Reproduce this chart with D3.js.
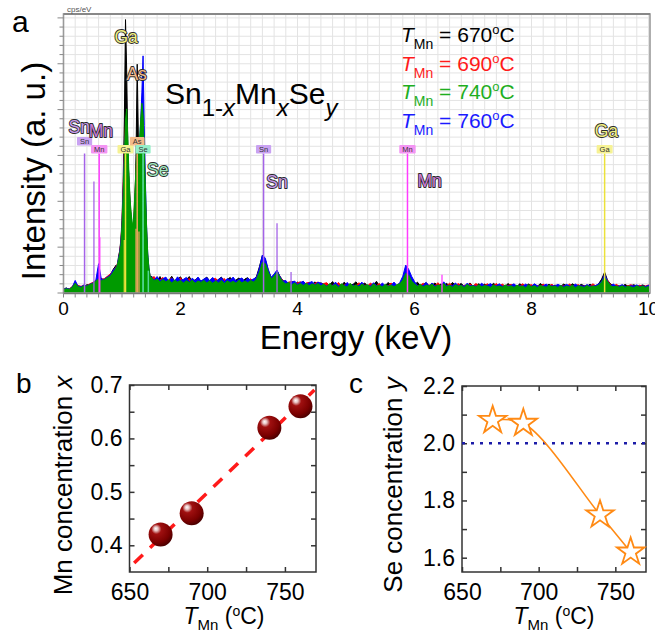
<!DOCTYPE html>
<html><head><meta charset="utf-8">
<script src="https://cdn.jsdelivr.net/npm/d3@7"></script>
<style>
body{margin:0;background:#fff;}
svg{display:block;font-family:Arial,"Liberation Sans",sans-serif;}
</style></head><body>
<svg id="chart" width="655" height="638"></svg>
<script>
// ===================== DATA =====================
// EDS channel grid (keV): 0-0.85 step 0.05, 0.90-1.48 step 0.02, 1.50-10 step 0.05
const energy = d3.range(0, 18).map(i => +(i * 0.05).toFixed(3))
  .concat(d3.range(0, 30).map(i => +(0.90 + i * 0.02).toFixed(3)))
  .concat(d3.range(0, 171).map(i => +(1.50 + i * 0.05).toFixed(3)));

// intensity (a.u.)
const spec670 = [
  1.5,1.8,1.2,2.4,3.0,2.6,2.3,2.2,3.0,2.8,3.6,4.0,4.6,5.2,4.6,5.8,6.5,8.5,
  10,9,13,15,19,26,40,62,98,80,52,38,30,25,22,24,30,50,82,55,48,56,60,54,44,30,19,11,7.5,5.5,
  6.0,5.2,4.4,5.9,4.1,5.0,4.5,6.0,4.2,4.9,5.8,4.1,4.8,5.9,4.0,4.7,5.5,4.2,4.9,5.7,
  4.2,5.3,4.0,4.9,5.7,3.9,4.8,5.6,4.0,4.7,5.4,3.9,5.0,5.5,4.1,4.6,6.0,9.5,13.5,12.0,
  8.0,5.5,6.5,8.0,6.0,4.5,4.1,3.0,4.3,3.0,3.9,3.1,4.2,2.9,3.8,3.0,4.0,2.8,3.7,3.0,
  2.6,3.0,4.1,2.4,3.2,2.7,3.9,2.5,2.8,3.1,4.0,2.6,2.9,3.6,2.4,2.8,3.0,4.2,2.5,2.9,
  2.6,3.8,2.7,3.1,2.5,3.5,5.0,8.0,7.0,5.0,2.9,3.9,2.6,3.0,3.7,2.5,2.8,3.6,2.4,3.2,
  2.7,3.5,2.4,3.8,2.6,2.9,3.4,2.3,2.7,3.6,2.4,2.8,3.3,2.5,3.2,2.6,2.4,3.5,2.6,2.8,
  2.6,2.4,3.4,2.5,2.9,2.3,3.3,2.6,2.4,3.2,2.5,2.9,2.3,3.4,2.6,2.5,3.1,2.4,2.8,2.6,
  2.4,3.2,2.6,2.3,3.3,2.5,2.4,3.1,2.6,2.3,3.2,2.4,2.6,3.4,5.0,7.5,4.6,3.3,2.5,2.7,
  2.5,2.3,3.1,2.4,2.6,3.0,2.3,2.5,2.9,2.4,2.3
];
const spec690 = [
  1.4,1.6,1.5,2.2,4.0,2.5,2.4,2.8,2.6,3.3,3.8,4.5,5.4,4.8,5.2,6.0,6.8,8.0,
  9.5,10.5,12,15,18,25,38,52,60,58,48,40,32,26,23,26,34,44,50,46,52,58,60,56,46,34,22,13,8.5,6,
  5.2,5.9,4.3,4.7,5.6,3.9,4.6,5.4,4.0,4.4,5.5,3.8,4.5,5.2,3.9,4.4,5.3,3.7,4.6,5.1,
  3.9,4.9,5.3,3.8,4.5,5.2,3.7,4.6,5.3,3.8,4.4,5.2,3.9,4.5,5.1,4.0,5.4,8.5,12.0,11.5,
  8.0,5.4,6.4,7.8,5.8,4.6,3.3,3.9,4.1,3.1,3.7,4.0,3.0,3.6,3.8,2.9,3.5,3.9,2.8,3.4,
  3.7,2.5,2.8,2.6,3.8,2.4,2.9,3.5,2.5,2.7,2.6,3.7,2.4,2.8,2.6,3.6,2.5,2.7,3.4,2.4,
  2.7,2.6,3.6,2.5,2.8,3.4,4.8,7.4,6.9,4.7,3.7,2.6,2.8,3.5,2.5,2.9,2.7,2.6,3.7,2.5,
  2.9,2.6,3.5,2.5,2.7,3.4,2.4,2.8,2.6,3.3,2.5,3.4,2.6,2.4,2.8,3.3,2.5,2.6,3.4,2.4,
  3.2,2.5,2.7,3.1,2.4,2.6,2.5,3.3,2.4,2.7,3.0,2.4,2.6,2.5,3.2,2.4,2.6,3.1,2.3,2.6,
  2.5,2.6,2.4,3.2,2.5,2.7,3.0,2.4,2.5,2.8,2.4,3.3,2.5,3.0,4.0,6.0,4.6,3.0,2.4,3.1,
  2.4,2.8,2.3,2.6,3.0,2.4,2.3,2.8,2.4,2.5,2.9
];
const spec740 = [
  1.2,1.5,1.3,2.0,3.5,2.2,2.0,2.6,2.4,3.0,3.4,4.2,5.0,4.4,4.8,5.5,6.0,7.5,
  9,10,12,14,17,24,35,48,62,66,55,42,33,28,24,27,36,45,52,48,55,62,68,64,52,38,24,14,9,6,
  5.6,4.4,5.0,3.9,4.8,4.0,4.7,3.6,4.6,3.9,4.5,3.6,4.4,3.8,4.6,3.5,4.3,3.8,4.5,3.6,
  4.4,3.5,4.3,3.6,4.5,3.4,4.4,3.7,4.2,3.5,4.6,3.6,4.3,3.7,4.5,3.9,5.0,7.5,11.0,10.5,
  7.5,5.0,6.0,7.5,5.5,4.0,3.2,3.8,2.9,3.6,2.8,3.4,2.7,3.5,2.6,3.3,2.8,3.4,2.5,3.2,
  2.2,3.4,2.5,3.1,2.0,3.3,2.6,2.1,3.5,2.4,2.9,2.2,3.2,2.5,3.0,2.1,3.3,2.4,2.8,2.2,
  3.1,2.3,2.9,2.2,3.0,3.3,4.6,7.0,6.4,4.3,3.2,2.4,3.1,2.2,2.8,2.5,3.2,2.1,2.9,2.6,
  3.4,2.2,2.8,2.1,3.0,2.4,2.7,2.0,3.1,2.3,2.6,2.1,3.0,2.2,2.7,2.4,2.0,2.9,2.3,2.5,
  2.1,2.9,2.2,2.6,2.0,2.8,2.3,2.5,1.9,2.9,2.2,2.6,2.0,2.7,2.3,2.1,2.8,2.2,2.5,2.0,
  2.7,2.0,2.5,2.2,2.8,1.9,2.6,2.3,2.0,2.7,2.1,2.5,2.3,2.9,3.9,5.6,4.1,2.6,2.2,2.5,
  2.1,2.6,2.0,2.5,2.2,1.9,2.6,2.1,2.4,2.0,2.3
];
const spec760 = [
  1.3,1.7,1.4,2.1,4.5,2.3,2.2,2.9,2.5,3.1,3.6,4.3,10.5,4.6,5.0,5.7,6.4,8.2,
  9.2,10.2,12.5,14.5,18,24,36,50,58,62,50,40,31,26,22,25,33,42,50,47,54,62,72,85,60,40,24,14,9,6,
  5.8,4.6,5.9,4.4,5.1,5.7,4.1,5.4,4.3,5.8,4.5,4.9,5.6,4.0,5.3,4.4,5.7,4.2,5.0,5.5,
  4.5,5.6,4.1,4.8,5.5,4.0,5.2,4.6,5.7,4.2,4.9,5.4,4.1,5.3,4.5,5.1,5.6,9.0,13.6,12.5,
  8.5,5.6,6.8,8.2,5.9,4.2,4.5,3.2,3.9,4.3,3.1,3.8,4.2,3.0,3.7,4.1,2.9,3.9,3.5,3.0,
  2.5,2.9,2.6,3.9,2.5,2.8,2.6,3.8,2.4,2.9,2.5,2.7,3.9,2.4,2.7,2.5,3.7,2.6,2.4,3.6,
  2.6,2.5,2.8,3.9,2.6,3.8,6.0,10.0,8.5,6.0,4.1,2.7,2.5,2.8,3.8,2.4,3.6,2.5,2.7,2.6,
  4.0,2.5,2.7,2.6,3.6,2.5,2.8,2.4,3.5,2.6,2.7,2.4,2.6,3.5,2.5,2.8,3.4,2.4,2.6,3.3,
  2.4,2.6,2.5,2.7,3.3,2.4,2.6,2.4,3.2,2.5,2.4,3.3,2.6,2.4,2.5,3.2,2.4,2.6,2.5,3.1,
  2.6,2.4,3.1,2.5,2.4,3.2,2.5,2.6,2.4,3.0,2.5,2.4,2.7,3.3,4.2,6.6,4.3,2.6,3.2,2.4,
  2.5,3.0,2.4,2.3,2.6,2.5,2.9,2.3,2.5,2.3,2.8
];
const legendTemps = ["670", "690", "740", "760"];

// element marker lines (keV)
const lineElem   = ["Sn", "Mn", "Ga", "As", "Se", "Sn", "Mn", "Ga"];
const lineEnergy = [0.36, 0.61, 1.06, 1.26, 1.36, 3.42, 5.88, 9.25];
const lineRow    = [0, 1, 1, 0, 1, 1, 1, 1];
const minorElem   = ["Sn", "Mn", "Ga", "As", "As", "Se", "Sn", "Sn", "Mn"];
const minorEnergy = [0.52, 0.62, 1.04, 1.24, 1.29, 1.45, 3.65, 3.89, 6.47];
const minorHeight = [40, 20, 19, 23, 22, 8, 25, 7.5, 6.5];
// element name labels (energy, intensity)
const tagElem   = ["Sn", "Mn", "Ga", "As", "Se", "Sn", "Mn", "Ga"];
const tagEnergy = [0.27, 0.64, 1.07, 1.25, 1.61, 3.65, 6.26, 9.28];
const tagValue  = [57.5, 56, 89.5, 76.3, 42, 37.6, 38, 56];

// panel b
const tempMn = [670, 690, 740, 760];
const mnConc = [0.42, 0.46, 0.62, 0.66];
const fitSpan = [653, 769];
// panel c
const seConc = [2.08, 2.07, 1.75, 1.62];
const seRef = 2.0;
const tTicks = [650, 700, 750];
const tTickLabels = ["650", "700", "750"];
const tMinor = [675, 725];
const bYTicks = [0.4, 0.5, 0.6, 0.7];
const bYLabels = ["0.4", "0.5", "0.6", "0.7"];
const bYMinor = [0.45, 0.55, 0.65];
const cYTicks = [1.6, 1.8, 2.0, 2.2];
const cYLabels = ["1.6", "1.8", "2.0", "2.2"];
const cYMinor = [1.7, 1.9, 2.1];
const eTicks = [0, 2, 4, 6, 8, 10];
const eTickLabels = ["0", "2", "4", "6", "8", "10"];

// ===================== STYLE =====================
const elemColor = {Sn: "#a463e8", Mn: "#ff3cff", Ga: "#ece23a", As: "#f0a45e", Se: "#62dfae"};
const boxColor  = {Sn: "#c9a2f2", Mn: "#f394f3", Ga: "#f6f294", As: "#f5bb8a", Se: "#95efc8"};
const tagColor  = {Sn: "#c59be9", Mn: "#c97dd8", Ga: "#f1ef82", As: "#f2b98a", Se: "#9fe6bf"};
const specStyle = [
  {vals: spec670, color: "#000000"},
  {vals: spec690, color: "#ff0000"},
  {vals: spec760, color: "#0000ff"},
  {vals: spec740, color: "#009a00"}
];
const legendColors = ["#000000", "#ff1a1a", "#1eae1e", "#1a1aff"];

const svg = d3.select("#chart");

// ===================== PANEL A =====================
const A = {x0: 63.5, x1: 650, y0: 14, y1: 293};
const xA = d3.scaleLinear().domain([0, 10]).range([63.5, 648.5]);
const yA = d3.scaleLinear().domain([0, 100]).range([293, 14]);
const gA = svg.append("g");

// grid
const vGrid = d3.range(0, 51).map(i => i * 0.2);
const hGrid = d3.range(0, 31).map(i => i * 98.6 / 30);
gA.append("g").selectAll("line").data(vGrid).join("line")
  .attr("x1", d => xA(d)).attr("x2", d => xA(d))
  .attr("y1", A.y0).attr("y2", A.y1)
  .attr("stroke", "#e3e3e3").attr("stroke-width", 1);
gA.append("g").selectAll("line").data(hGrid).join("line")
  .attr("x1", A.x0).attr("x2", A.x1)
  .attr("y1", d => yA(d)).attr("y2", d => yA(d))
  .attr("stroke", "#e3e3e3").attr("stroke-width", 1);

// clip
svg.append("defs").append("clipPath").attr("id", "clipA")
  .append("rect").attr("x", A.x0).attr("y", A.y0).attr("width", A.x1 - A.x0).attr("height", A.y1 - A.y0);

// spectra
const area = d3.area().x(d => xA(d[0])).y0(yA(0)).y1(d => yA(d[1]));
const gSpec = gA.append("g").attr("clip-path", "url(#clipA)");
specStyle.forEach(s => {
  const n = Math.min(energy.length, s.vals.length);
  const pts = d3.range(n).map(i => [energy[i], s.vals[i]]);
  gSpec.append("path").datum(pts).attr("d", area)
    .attr("fill", s.color).attr("stroke", s.color).attr("stroke-width", 1)
    .attr("stroke-linejoin", "miter");
});

// minor marker lines
gA.append("g").selectAll("line").data(minorEnergy).join("line")
  .attr("x1", d => xA(d)).attr("x2", d => xA(d))
  .attr("y1", (d, i) => yA(minorHeight[i])).attr("y2", yA(0))
  .attr("stroke", (d, i) => elemColor[minorElem[i]]).attr("stroke-width", 1.5)
  .attr("opacity", 0.85);
// main marker lines
gA.append("g").selectAll("line").data(lineEnergy).join("line")
  .attr("x1", d => xA(d)).attr("x2", d => xA(d))
  .attr("y1", yA(50)).attr("y2", yA(0))
  .attr("stroke", (d, i) => elemColor[lineElem[i]]).attr("stroke-width", 1.5);
// boxes
const gBox = gA.append("g");
lineEnergy.forEach((e, i) => {
  const top = 137 + lineRow[i] * 8;
  const g = gBox.append("g");
  const t = g.append("text").attr("x", xA(e)).attr("y", top + 6.7)
    .attr("text-anchor", "middle").attr("font-size", 7.5).attr("fill", "#333")
    .text(lineElem[i]);
  const w = t.node().getComputedTextLength() + 6;
  g.insert("rect", "text").attr("x", xA(e) - w / 2).attr("y", top)
    .attr("width", w).attr("height", 8.5).attr("rx", 1)
    .attr("fill", boxColor[lineElem[i]]);
});

// element name labels
gA.append("g").selectAll("text").data(tagEnergy).join("text")
  .attr("x", d => xA(d)).attr("y", (d, i) => yA(tagValue[i]))
  .attr("text-anchor", "middle").attr("font-size", 17.5)
  .attr("fill", (d, i) => tagColor[tagElem[i]])
  .attr("stroke", "#2a2a2a").attr("stroke-width", 1.8)
  .attr("paint-order", "stroke").attr("stroke-linejoin", "round")
  .text((d, i) => tagElem[i]);

// frame
gA.append("rect").attr("x", A.x0).attr("y", A.y0)
  .attr("width", A.x1 - A.x0).attr("height", A.y1 - A.y0)
  .attr("fill", "none").attr("stroke", "#9a9a9a").attr("stroke-width", 1.6);
gA.append("line").attr("x1", A.x0).attr("x2", A.x1).attr("y1", A.y0).attr("y2", A.y0)
  .attr("stroke", "#888").attr("stroke-width", 2);
gA.append("line").attr("x1", A.x0).attr("x2", A.x1).attr("y1", 293.5).attr("y2", 293.5)
  .attr("stroke", "#777").attr("stroke-width", 1.5);
// bottom ticks
gA.append("g").selectAll("line").data(vGrid).join("line")
  .attr("x1", d => xA(d)).attr("x2", d => xA(d))
  .attr("y1", 294).attr("y2", 297.5).attr("stroke", "#888").attr("stroke-width", 1);
// left ticks
gA.append("g").selectAll("line").data(hGrid).join("line")
  .attr("x1", (d, i) => i % 5 === 0 ? 57.5 : 59.5).attr("x2", A.x0)
  .attr("y1", d => yA(d)).attr("y2", d => yA(d))
  .attr("stroke", "#888").attr("stroke-width", 1);
// x tick labels
gA.append("g").selectAll("text").data(eTicks).join("text")
  .attr("x", d => xA(d)).attr("y", 315).attr("text-anchor", "middle")
  .attr("font-size", 19).attr("fill", "#000")
  .text((d, i) => eTickLabels[i]);
// cps/eV
gA.append("text").attr("x", 67).attr("y", 11.5).attr("font-size", 8).attr("fill", "#555").text("cps/eV");
// titles
gA.append("text").attr("transform", "translate(45,171) rotate(-90)").attr("text-anchor", "middle")
  .attr("font-size", 33).text("Intensity (a. u.)");
gA.append("text").attr("x", 356).attr("y", 349).attr("text-anchor", "middle")
  .attr("font-size", 33).text("Energy (keV)");
svg.append("text").attr("x", 12).attr("y", 32).attr("font-size", 30).text("a");

// formula
const fm = gA.append("text").attr("x", 165).attr("y", 104).attr("font-size", 30);
fm.append("tspan").text("Sn");
fm.append("tspan").attr("dy", 12).attr("font-size", 24).text("1-");
fm.append("tspan").attr("font-size", 24).attr("font-style", "italic").text("x");
fm.append("tspan").attr("dy", -12).text("Mn");
fm.append("tspan").attr("dy", 12).attr("font-size", 24).attr("font-style", "italic").text("x");
fm.append("tspan").attr("dy", -12).text("Se");
fm.append("tspan").attr("dy", 12).attr("font-size", 24).attr("font-style", "italic").text("y");

// legend
legendTemps.forEach((t, i) => {
  const tx = gA.append("text").attr("x", 401).attr("y", 42 + i * 28.7)
    .attr("font-size", 21).attr("fill", legendColors[i]);
  tx.append("tspan").attr("font-style", "italic").text("T");
  tx.append("tspan").attr("dy", 7).attr("font-size", 14).text("Mn");
  tx.append("tspan").attr("dy", -7).text(" = " + t);
  tx.append("tspan").attr("dy", -8).attr("font-size", 13).text("o");
  tx.append("tspan").attr("dy", 8).text("C");
});

// ===================== PANELS B & C =====================
function framePanel(g, x, y, yTicks, yLabels, yMinor) {
  const [xl, xr] = x.range();
  const [yb, yt] = y.range();
  const tickStyle = sel => {
    sel.select(".domain").remove();
    sel.selectAll("line").attr("stroke", "#333").attr("stroke-width", 1.5);
    sel.selectAll("text").attr("font-size", 23).attr("fill", "#000")
      .attr("font-family", 'Arial,"Liberation Sans",sans-serif');
  };
  g.append("g").attr("transform", `translate(0,${yb})`)
    .call(d3.axisBottom(x).tickValues(tTicks).tickSizeInner(-5).tickSizeOuter(0).tickPadding(12)
      .tickFormat((d, i) => tTickLabels[i])).call(tickStyle);
  g.append("g").attr("transform", `translate(0,${yb})`)
    .call(d3.axisBottom(x).tickValues(tMinor).tickSizeInner(-5).tickSizeOuter(0).tickFormat("")).call(tickStyle);
  g.append("g").attr("transform", `translate(0,${yt})`)
    .call(d3.axisTop(x).tickValues(tTicks.concat(tMinor)).tickSizeInner(-5).tickSizeOuter(0).tickFormat("")).call(tickStyle);
  g.append("g").attr("transform", `translate(${xl},0)`)
    .call(d3.axisLeft(y).tickValues(yTicks).tickSizeInner(-5).tickSizeOuter(0).tickPadding(7)
      .tickFormat((d, i) => yLabels[i])).call(tickStyle);
  g.append("g").attr("transform", `translate(${xl},0)`)
    .call(d3.axisLeft(y).tickValues(yMinor).tickSizeInner(-5).tickSizeOuter(0).tickFormat("")).call(tickStyle);
  g.append("g").attr("transform", `translate(${xr},0)`)
    .call(d3.axisRight(y).tickValues(yTicks.concat(yMinor)).tickSizeInner(-5).tickSizeOuter(0).tickFormat("")).call(tickStyle);
  g.append("rect").attr("x", xl).attr("y", yt).attr("width", xr - xl).attr("height", yb - yt)
    .attr("fill", "none").attr("stroke", "#333").attr("stroke-width", 1.5);
}
function xTitle(g, cx) {
  const t = g.append("text").attr("x", cx).attr("y", 624).attr("text-anchor", "middle").attr("font-size", 23);
  t.append("tspan").attr("font-style", "italic").text("T");
  t.append("tspan").attr("dy", 6).attr("font-size", 15).text("Mn");
  t.append("tspan").attr("dy", -6).text(" (");
  t.append("tspan").attr("dy", -8).attr("font-size", 14).text("o");
  t.append("tspan").attr("dy", 8).text("C)");
}

// --- panel b
const xB = d3.scaleLinear().domain([650, 770]).range([129.5, 316]);
const yB = d3.scaleLinear().domain([0.35, 0.7]).range([572, 385]);
const gB = svg.append("g");
const defs = svg.select("defs");
const grad = defs.append("radialGradient").attr("id", "sphere")
  .attr("cx", "0.38").attr("cy", "0.32").attr("r", "0.7").attr("fx", "0.3").attr("fy", "0.25");
grad.append("stop").attr("offset", "0").attr("stop-color", "#ffffff");
grad.append("stop").attr("offset", "0.12").attr("stop-color", "#e8c4c4");
grad.append("stop").attr("offset", "0.3").attr("stop-color", "#a01010");
grad.append("stop").attr("offset", "0.75").attr("stop-color", "#7a0000");
grad.append("stop").attr("offset", "1").attr("stop-color", "#4a0000");

framePanel(gB, xB, yB, bYTicks, bYLabels, bYMinor);
// linear fit
const reg = (() => {
  const mx = d3.mean(tempMn), my = d3.mean(mnConc);
  const sxy = d3.sum(tempMn, (t, i) => (t - mx) * (mnConc[i] - my));
  const sxx = d3.sum(tempMn, t => (t - mx) * (t - mx));
  const k = sxy / sxx;
  return t => my + k * (t - mx);
})();
gB.append("path").datum(fitSpan)
  .attr("d", d3.line().x(d => xB(d)).y(d => yB(reg(d))))
  .attr("stroke", "#ff1a1a").attr("stroke-width", 3.5).attr("stroke-dasharray", "12,10")
  .attr("fill", "none");
gB.append("g").selectAll("circle").data(tempMn).join("circle")
  .attr("cx", d => xB(d)).attr("cy", (d, i) => yB(mnConc[i])).attr("r", 12)
  .attr("fill", "url(#sphere)");
gB.append("text").attr("transform", "translate(72,485.5) rotate(-90)").attr("text-anchor", "middle")
  .attr("font-size", 26)
  .call(t => { t.append("tspan").text("Mn concentration "); t.append("tspan").attr("font-style", "italic").text("x"); });
xTitle(gB, 224);
svg.append("text").attr("x", 16).attr("y", 393).attr("font-size", 28).text("b");

// --- panel c
const xC = d3.scaleLinear().domain([650, 770]).range([462, 646]);
const yC = d3.scaleLinear().domain([1.55, 2.2]).range([572, 386]);
const gC = svg.append("g");
framePanel(gC, xC, yC, cYTicks, cYLabels, cYMinor);
gC.append("line").attr("x1", xC.range()[0]).attr("x2", xC.range()[1])
  .attr("y1", yC(seRef)).attr("y2", yC(seRef))
  .attr("stroke", "#1c1ca8").attr("stroke-width", 2.5).attr("stroke-dasharray", "3,6");
gC.append("path").datum(tempMn)
  .attr("d", d3.line().x(d => xC(d)).y((d, i) => yC(seConc[i])).curve(d3.curveCatmullRom.alpha(0.5)))
  .attr("fill", "none").attr("stroke", "#ff8a14").attr("stroke-width", 1.6);
gC.append("g").selectAll("path").data(tempMn).join("path")
  .attr("transform", (d, i) => `translate(${xC(d)},${yC(seConc[i])})`)
  .attr("d", d3.symbol().type(d3.symbolStar).size(235))
  .attr("fill", "#fff").attr("stroke", "#ff8a14").attr("stroke-width", 1.8);
gC.append("text").attr("transform", "translate(402,485) rotate(-90)").attr("text-anchor", "middle")
  .attr("font-size", 26)
  .call(t => { t.append("tspan").text("Se concentration "); t.append("tspan").attr("font-style", "italic").text("y"); });
xTitle(gC, 554);
svg.append("text").attr("x", 349).attr("y", 393).attr("font-size", 28).text("c");
</script>
</body></html>
